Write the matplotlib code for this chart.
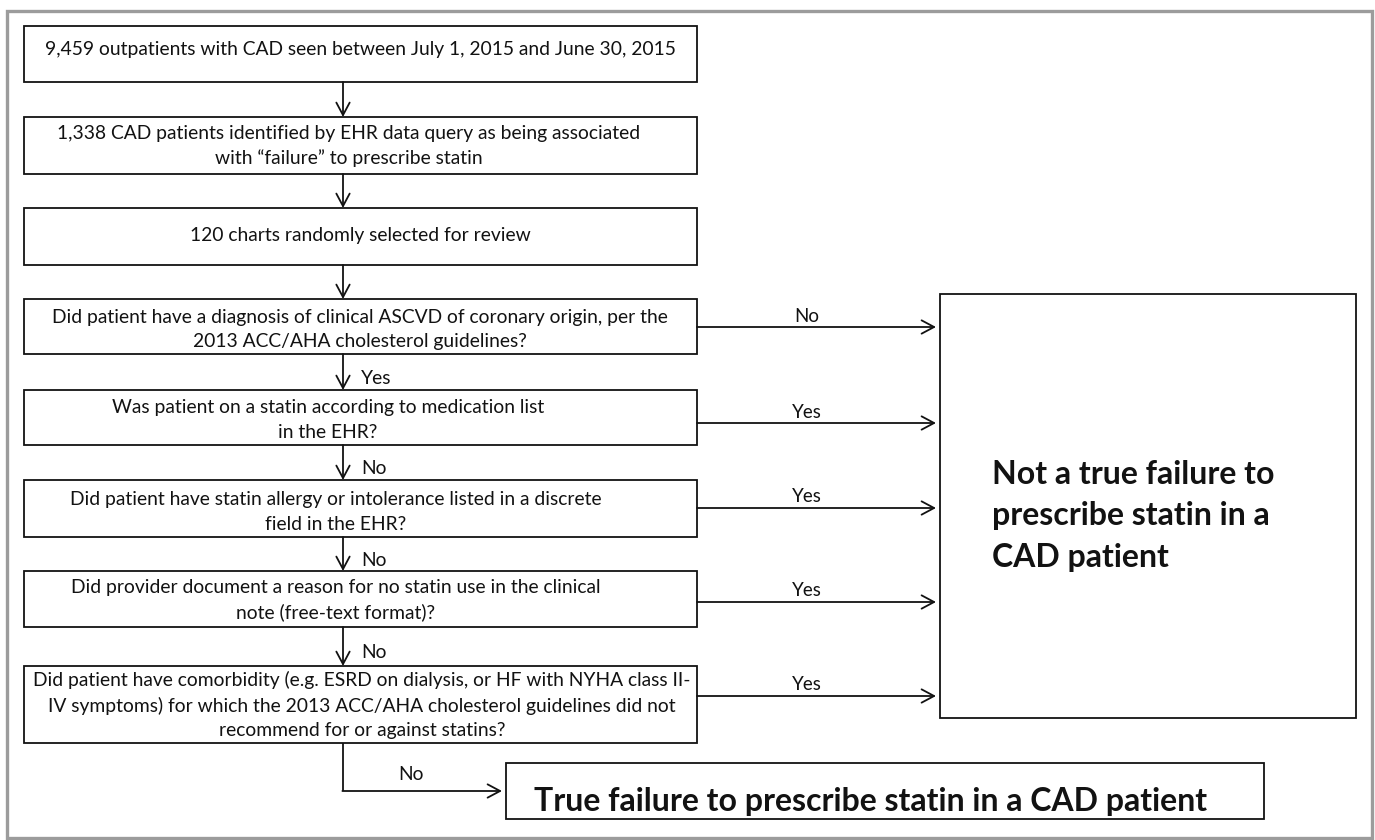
import matplotlib
matplotlib.use("Agg")
import matplotlib.pyplot as plt
from matplotlib.patches import Rectangle

plt.rcParams['font.family'] = ['Lato', 'DejaVu Sans']

# ---- content ----
step_texts = [
    "9,459 outpatients with CAD seen between July 1, 2015 and June 30, 2015",
    "1,338 CAD patients identified by EHR data query as being associated\nwith \u201cfailure\u201d to prescribe statin",
    "120 charts randomly selected for review",
    "Did patient have a diagnosis of clinical ASCVD of coronary origin, per the\n2013 ACC/AHA cholesterol guidelines?",
    "Was patient on a statin according to medication list\nin the EHR?",
    "Did patient have statin allergy or intolerance listed in a discrete\nfield in the EHR?",
    "Did provider document a reason for no statin use in the clinical\nnote (free-text format)?",
    "Did patient have comorbidity (e.g. ESRD on dialysis, or HF with NYHA class II-\nIV symptoms) for which the 2013 ACC/AHA cholesterol guidelines did not\nrecommend for or against statins?",
]
down_labels = ["", "", "Yes", "No", "No", "No"]          # arrows between consecutive boxes
side_labels = ["No", "Yes", "Yes", "Yes", "Yes"]         # arrows from question boxes to the right outcome
final_label = "No"
outcome_not = "Not a true failure to\nprescribe statin in a\nCAD patient"
outcome_true = "True failure to prescribe statin in a CAD patient"

# ---- layout (pixel coordinates) ----
W, H = 1375, 840
box_left, box_right = 24, 697
box_tops = [26, 117, 208, 299, 390, 480, 571, 666]
box_bots = [82, 174, 265, 354, 445, 537, 627, 743]
text_cx = [360, 349, 360, 360, 328, 336, 336, 362]
text_cy = [50, 146, 235, 329, 420, 512, 600, 705]
arrow_x = 343
side_arrow_y = [327, 423, 508, 602, 696]
big_box = (940, 294, 1356, 718)
true_box = (506, 763, 1264, 819)
ink = '#121212'
box_lw = 1.3
fs = 13.9
fs_big = 23

fig = plt.figure(figsize=(W / 100, H / 100), dpi=100)
ax = fig.add_axes([0, 0, 1, 1])
ax.set_xlim(0, W)
ax.set_ylim(H, 0)
ax.axis('off')

# outer frame
ax.add_patch(Rectangle((7, 11), 1365, 827, fill=False, edgecolor='#9c9c9c', lw=2.4))

def arrow(x0, y0, x1, y1):
    ax.annotate('', xy=(x1, y1), xytext=(x0, y0),
                arrowprops=dict(arrowstyle='->,head_length=0.45,head_width=0.24',
                                mutation_scale=20, color=ink, lw=box_lw,
                                shrinkA=0, shrinkB=0))

# step boxes
for i, txt in enumerate(step_texts):
    ax.add_patch(Rectangle((box_left, box_tops[i]), box_right - box_left,
                           box_bots[i] - box_tops[i], fill=False,
                           edgecolor=ink, lw=box_lw))
    ax.text(text_cx[i], text_cy[i], txt, ha='center', va='center',
            fontsize=fs, color=ink, linespacing=1.5)

# down arrows
for i in range(len(step_texts) - 1):
    arrow(arrow_x, box_bots[i], arrow_x, box_tops[i + 1])
    lab = ([""] + down_labels)[i]
    if lab:
        ax.text(arrow_x + 18, (box_bots[i] + box_tops[i + 1]) / 2 + 6, lab,
                ha='left', va='center', fontsize=fs, color=ink)

# side arrows to "not a true failure"
for j, lab in enumerate(side_labels):
    y = side_arrow_y[j]
    arrow(box_right, y, big_box[0] - 4, y)
    ax.text(807, y - 11, lab, ha='center', va='center', fontsize=13.5, color=ink)

# big outcome box
bx0, by0, bx1, by1 = big_box
ax.add_patch(Rectangle((bx0, by0), bx1 - bx0, by1 - by0, fill=False, edgecolor=ink, lw=box_lw))
ax.text(992, 516, outcome_not, ha='left', va='center', fontsize=fs_big,
        fontweight='bold', color=ink, linespacing=1.5)

# final elbow arrow to "true failure"
elbow_y = 791
ax.plot([arrow_x, arrow_x], [box_bots[-1], elbow_y], color=ink, lw=box_lw, solid_capstyle='butt')
arrow(arrow_x - 0.6, elbow_y, true_box[0] - 4, elbow_y)
ax.text(411, 775, final_label, ha='center', va='center', fontsize=fs, color=ink)

tx0, ty0, tx1, ty1 = true_box
ax.add_patch(Rectangle((tx0, ty0), tx1 - tx0, ty1 - ty0, fill=False, edgecolor=ink, lw=box_lw))
ax.text(871, 802, outcome_true, ha='center', va='center', fontsize=fs_big,
        fontweight='bold', color=ink)

fig.savefig('out.png', dpi=100, facecolor='white')
